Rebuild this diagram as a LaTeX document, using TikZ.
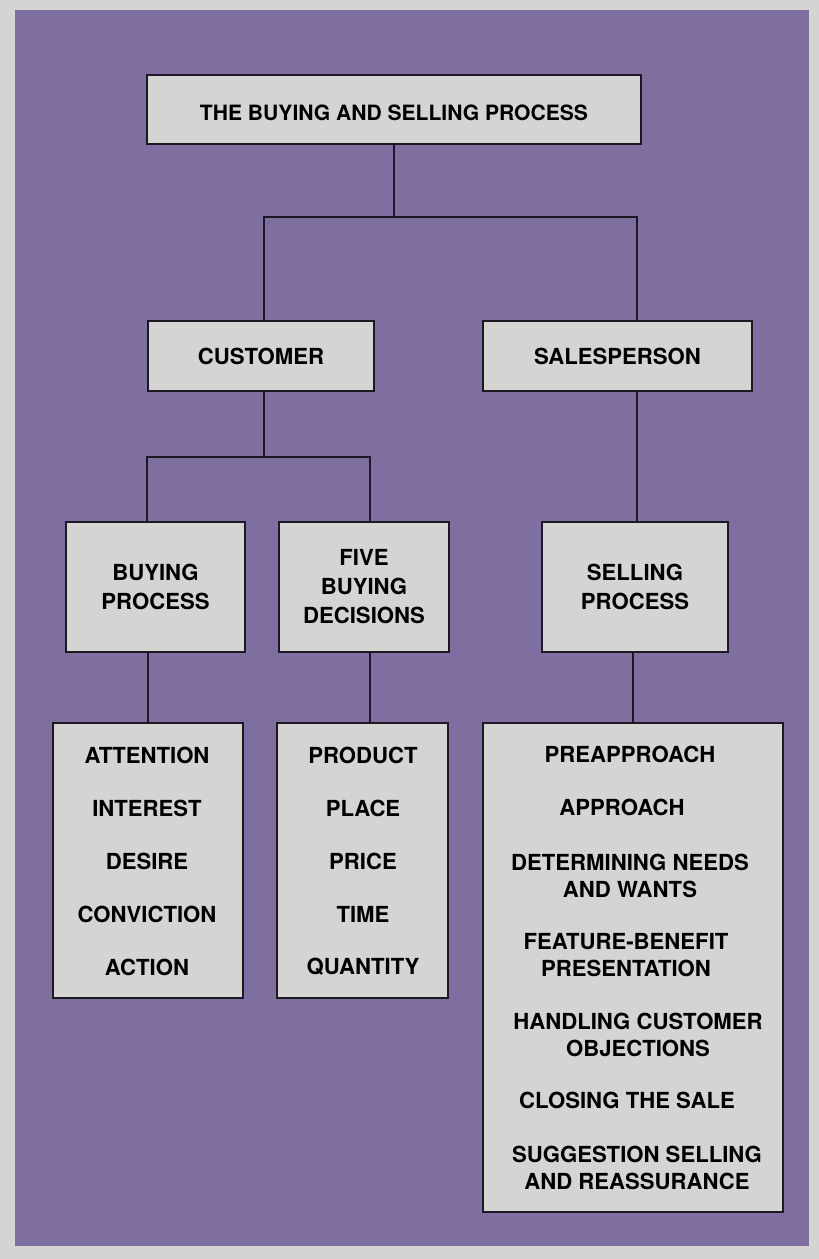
\documentclass[tikz,border=0pt]{standalone}
\usepackage{fontspec}
\setmainfont{TeX Gyre Heros}
\definecolor{bgpurple}{RGB}{126,111,160}
\definecolor{boxgray}{RGB}{212,213,210}
\definecolor{edgegray}{RGB}{212,213,211}
\definecolor{inkline}{RGB}{30,24,36}

\begin{document}
\begin{tikzpicture}[x=0.02cm, y=-0.02cm,
    box/.style={draw=inkline, line width=1.5pt, fill=boxgray, align=center, inner sep=0pt,
      font=\bfseries\fontsize{12.6}{16.5}\selectfont},
    item/.style={align=center, inner sep=0pt, font=\bfseries\fontsize{12.6}{15.4}\selectfont},
    link/.style={draw=inkline, line width=1.5pt}]
    \useasboundingbox (0,0) rectangle (819,1259);
    \fill[edgegray] (0,0) rectangle (819,1259);
    \fill[bgpurple] (15,10) rectangle (809,1246);

% top level
\node[box, minimum width=9.88cm, minimum height=1.38cm] (title) at (394,109.5) {};
\node[item, font=\bfseries\fontsize{12}{14}\selectfont] (titletext) at (394,113)
    {THE BUYING AND SELLING PROCESS};
\node[box, minimum width=4.52cm, minimum height=1.4cm] (cust) at (261,356) {CUSTOMER};
\node[box, minimum width=5.38cm, minimum height=1.4cm] (sales) at (617.5,356) {SALESPERSON};

% second level
\node[box, minimum width=3.58cm, minimum height=2.6cm] (bproc) at (155.5,587) {BUYING\\PROCESS};
\node[box, minimum width=3.4cm, minimum height=2.6cm] (fbd) at (364,587) {FIVE\\BUYING\\DECISIONS};
\node[box, minimum width=3.72cm, minimum height=2.6cm] (sproc) at (635,587) {SELLING\\PROCESS};

% lists
\node[box, minimum width=3.8cm, minimum height=5.5cm] (blist) at (148,860.5) {};
\node[box, minimum width=3.42cm, minimum height=5.5cm] (flist) at (362.5,860.5) {};
\node[box, minimum width=6cm, minimum height=9.78cm] (slist) at (633,967.5) {};

\foreach \t [count=\i] in {ATTENTION, INTEREST, DESIRE, CONVICTION, ACTION}
    \node[item] (bitem\i) at (147,{755+53*(\i-1)}) {\t};
\foreach \t [count=\i] in {PRODUCT, PLACE, PRICE, TIME, QUANTITY}
    \node[item] (fitem\i) at (363,{755+53*(\i-1)}) {\t};
\foreach \x/\y/\t [count=\i] in {630/754/PREAPPROACH, 622/807/APPROACH,
    630/876/{DETERMINING NEEDS\\AND WANTS}, 626/955.5/{FEATURE-BENEFIT\\PRESENTATION},
    638/1035/{HANDLING CUSTOMER\\OBJECTIONS}, 627/1100/{CLOSING THE SALE},
    637/1167.5/{SUGGESTION SELLING\\AND REASSURANCE}}
    \node[item] (sitem\i) at (\x,\y) {\t};

% connectors
\coordinate (busl) at (264,217);
\coordinate (busr) at (637,217);
\coordinate (cbusl) at (147,457);
\coordinate (cbusr) at (370,457);

\draw[link] (title.south) -- (title.south |- busl);
\draw[link] (busl |- cust.north) -- (busl) -- (busr) -- (busr |- sales.north);
\draw[link] (busl |- cust.south) -- (busl |- cbusl);
\draw[link] (cbusl |- bproc.north) -- (cbusl) -- (cbusr) -- (cbusr |- fbd.north);
\draw[link] (busr |- sales.south) -- (busr |- sproc.north);
\draw[link] (blist.north) -- (blist.north |- bproc.south);
\draw[link] (cbusr |- fbd.south) -- (cbusr |- flist.north);
\draw[link] (slist.north) -- (slist.north |- sproc.south);
\end{tikzpicture}
\end{document}
